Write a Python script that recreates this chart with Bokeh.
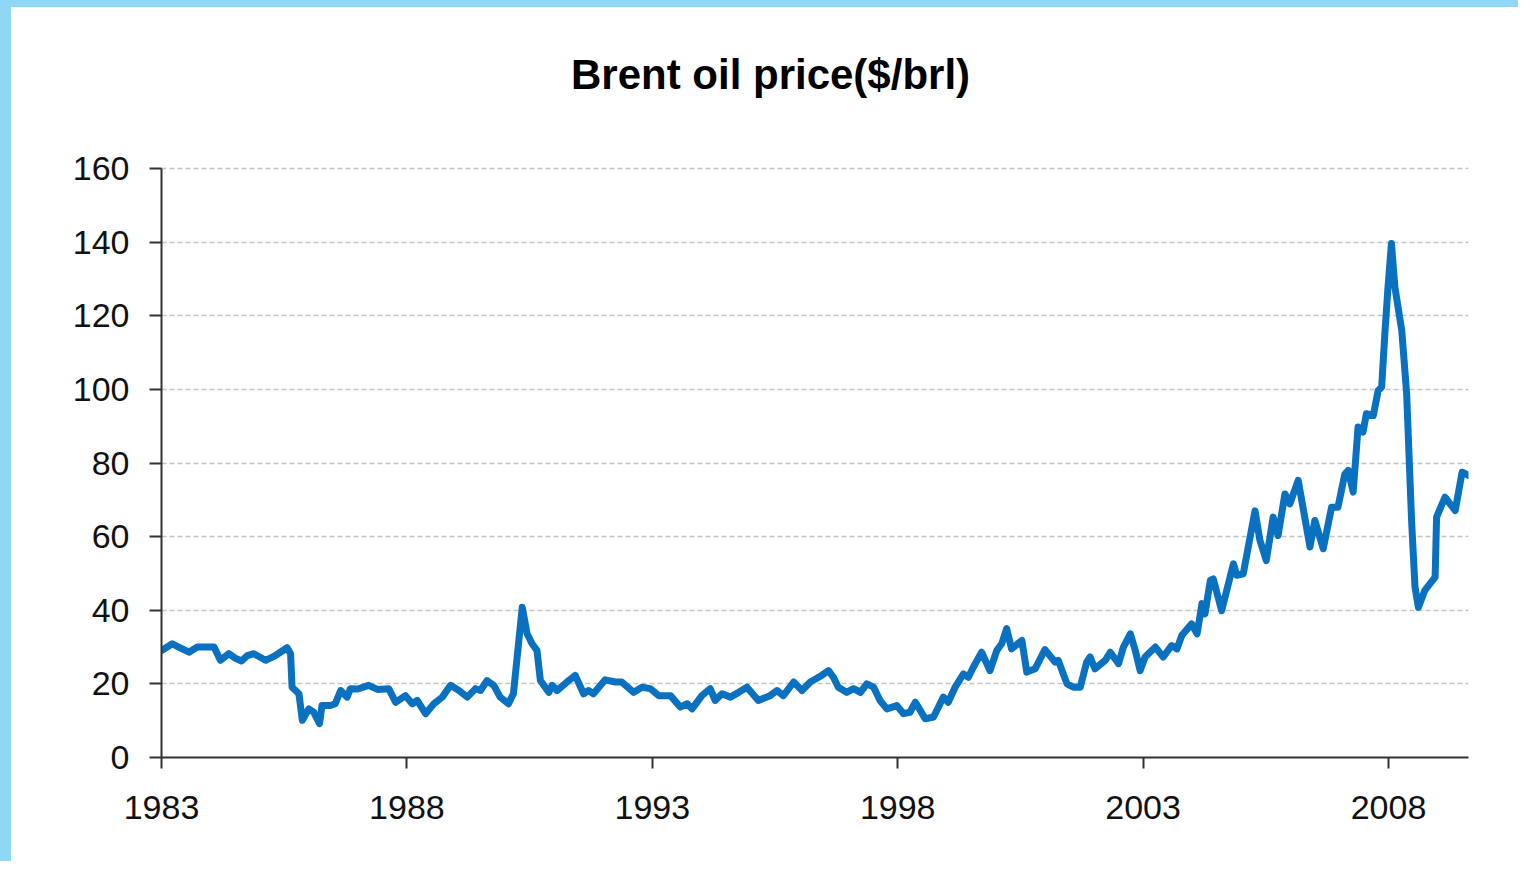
from bokeh.plotting import figure
from bokeh.models import Range1d, FixedTicker, Label
from bokeh.embed import file_html
from bokeh.resources import INLINE

title_text = "Brent oil price($/brl)"

# Decimal year and Brent price ($/brl)
years = [
    1983.01, 1983.22, 1983.35, 1983.56, 1983.73, 1983.90, 1984.07, 1984.20, 1984.37, 1984.50,
    1984.63, 1984.75, 1984.88, 1985.12, 1985.32, 1985.56, 1985.63, 1985.66, 1985.80, 1985.87,
    1986.00, 1986.10, 1986.22, 1986.27, 1986.44, 1986.54, 1986.65, 1986.78, 1986.85, 1987.00,
    1987.22, 1987.40, 1987.63, 1987.77, 1987.97, 1988.11, 1988.21, 1988.38, 1988.55, 1988.72,
    1988.89, 1989.06, 1989.23, 1989.40, 1989.50, 1989.63, 1989.77, 1989.90, 1990.07, 1990.17,
    1990.35, 1990.45, 1990.55, 1990.65, 1990.72, 1990.89, 1990.96, 1991.06, 1991.26, 1991.43,
    1991.60, 1991.70, 1991.80, 1992.04, 1992.25, 1992.38, 1992.62, 1992.79, 1992.96, 1993.13,
    1993.37, 1993.57, 1993.71, 1993.81, 1994.01, 1994.18, 1994.28, 1994.42, 1994.59, 1994.76,
    1994.93, 1995.16, 1995.40, 1995.54, 1995.67, 1995.88, 1996.05, 1996.22, 1996.45, 1996.59,
    1996.69, 1996.79, 1996.96, 1997.10, 1997.24, 1997.37, 1997.51, 1997.64, 1997.78, 1997.98,
    1998.12, 1998.25, 1998.36, 1998.46, 1998.56, 1998.73, 1998.83, 1998.93, 1999.03, 1999.17,
    1999.34, 1999.44, 1999.54, 1999.71, 1999.88, 2000.02, 2000.12, 2000.22, 2000.32, 2000.53,
    2000.63, 2000.80, 2001.00, 2001.21, 2001.27, 2001.45, 2001.58, 2001.72, 2001.85, 2001.92,
    2002.02, 2002.23, 2002.33, 2002.50, 2002.60, 2002.74, 2002.84, 2002.94, 2003.04, 2003.25,
    2003.41, 2003.58, 2003.69, 2003.79, 2003.99, 2004.10, 2004.20, 2004.26, 2004.37, 2004.43,
    2004.60, 2004.84, 2004.91, 2005.04, 2005.28, 2005.38, 2005.51, 2005.65, 2005.75, 2005.89,
    2005.99, 2006.16, 2006.40, 2006.50, 2006.67, 2006.84, 2006.97, 2007.11, 2007.18, 2007.28,
    2007.38, 2007.48, 2007.55, 2007.69, 2007.79, 2007.86, 2007.93, 2007.99, 2008.06, 2008.13,
    2008.27, 2008.37, 2008.47, 2008.54, 2008.61, 2008.74, 2008.95, 2008.98, 2009.15, 2009.36,
    2009.50, 2009.63,
]
prices = [
    29.1, 30.9, 30.0, 28.6, 30.0, 30.0, 30.0, 26.4, 28.2, 27.0,
    26.2, 27.7, 28.2, 26.4, 27.7, 29.8, 28.2, 19.1, 17.3, 10.1,
    13.2, 12.3, 9.2, 14.1, 14.1, 14.6, 18.2, 16.4, 18.7, 18.6,
    19.6, 18.5, 18.7, 15.0, 16.8, 14.6, 15.5, 11.9, 14.6, 16.4,
    19.6, 18.2, 16.4, 18.7, 18.2, 20.9, 19.6, 16.4, 14.6, 17.3,
    40.8, 33.6, 30.9, 29.1, 20.9, 17.7, 19.6, 18.2, 20.5, 22.3,
    17.3, 18.2, 17.3, 21.1, 20.5, 20.5, 17.7, 19.1, 18.7, 16.8,
    16.8, 13.7, 14.6, 13.2, 16.8, 18.7, 15.5, 17.3, 16.4, 17.7,
    19.1, 15.5, 16.8, 18.2, 16.8, 20.5, 18.2, 20.5, 22.3, 23.6,
    21.8, 19.1, 17.7, 18.7, 17.7, 20.0, 19.1, 15.5, 13.2, 14.1,
    11.9, 12.3, 15.0, 12.8, 10.5, 11.0, 13.7, 16.4, 15.0, 19.1,
    22.7, 21.8, 24.5, 28.6, 23.6, 29.1, 30.9, 35.0, 29.5, 31.8,
    23.2, 24.1, 29.3, 25.9, 26.4, 20.0, 19.1, 19.1, 25.9, 27.3,
    24.1, 26.4, 28.6, 25.5, 30.0, 33.6, 29.1, 23.6, 27.3, 30.0,
    27.3, 30.4, 29.5, 33.2, 36.3, 33.6, 41.8, 39.0, 48.1, 48.5,
    39.9, 52.6, 49.5, 49.9, 67.0, 59.0, 53.5, 65.3, 60.3, 71.6,
    68.9, 75.3, 57.2, 64.4, 56.7, 68.0, 68.0, 77.0, 78.0, 72.1,
    89.8, 88.4, 93.4, 92.9, 99.7, 100.6, 116.0, 127.8, 139.6, 127.8,
    116.0, 98.8, 64.4, 46.3, 40.8, 45.4, 49.0, 65.3, 70.7, 67.1,
    77.5, 76.6,
]

x_ticks = [1983, 1988, 1993, 1998, 2003, 2008]
x_tick_labels = ["1983", "1988", "1993", "1998", "2003", "2008"]
y_ticks = [0, 20, 40, 60, 80, 100, 120, 140, 160]
y_tick_labels = ["0", "20", "40", "60", "80", "100", "120", "140", "160"]

# frame extends above the 160 line so the title can sit inside it
px_per_unit = 589 / 160.0
y_top = 160 + (168 - 30) / px_per_unit

p = figure(
    width=1518, height=861,
    x_range=Range1d(1983.0, 2009.63), y_range=Range1d(0, y_top),
    output_backend="svg", toolbar_location=None,
    min_border_left=150, min_border_right=61, min_border_top=23, min_border_bottom=111,
    background_fill_color="white", border_fill_color="white",
)
p.styles = {"border-top": "7px solid #8ed7f5", "border-left": "11px solid #8ed7f5"}
p.outline_line_color = None

p.line(years, prices, line_color="#0A70C0", line_width=7, line_join="round", line_cap="round")

# grid
p.xgrid.grid_line_color = None
p.ygrid.grid_line_color = "#c4c4c4"
p.ygrid.grid_line_dash = "5 3"
p.ygrid.grid_line_width = 1.5

# axes
p.xaxis.ticker = FixedTicker(ticks=x_ticks)
p.xaxis.major_label_overrides = {t: l for t, l in zip(x_ticks, x_tick_labels)}
p.yaxis.ticker = FixedTicker(ticks=y_ticks)
p.yaxis.major_label_overrides = {t: l for t, l in zip(y_ticks, y_tick_labels)}
p.yaxis.bounds = (0, 160)

for ax in (p.xaxis, p.yaxis):
    ax.axis_line_color = "#333333"
    ax.axis_line_width = 2
    ax.major_tick_line_color = "#333333"
    ax.major_tick_line_width = 2
    ax.major_tick_in = 0
    ax.minor_tick_line_color = None
    ax.major_label_text_font = "Liberation Sans"
    ax.major_label_text_font_size = "34px"
    ax.major_label_text_color = "#111111"

p.xaxis.major_tick_out = 11
p.xaxis.major_label_standoff = 27
p.yaxis.major_tick_out = 12
p.yaxis.major_label_standoff = 20

title = Label(
    x=1983 + (770 - 161) * 26.63 / 1307, y=(757 - 74) / px_per_unit,
    text=title_text, text_align="center", text_baseline="middle",
    text_font="Liberation Sans", text_font_style="bold",
    text_font_size="42px", text_color="#000000",
)
p.add_layout(title)

open("out.html", "w").write(file_html(p, INLINE))
